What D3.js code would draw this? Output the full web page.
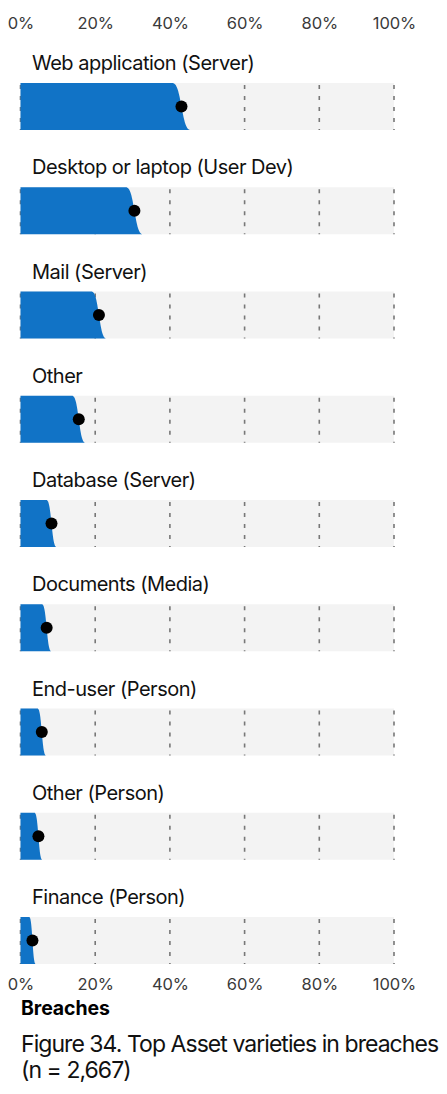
<!DOCTYPE html>
<html><head><meta charset="utf-8">
<script src="https://cdn.jsdelivr.net/npm/d3@7"></script>
<style>
html,body{margin:0;padding:0;background:#fff;}
svg{display:block;font-family:Inter,"Noto Sans",sans-serif;}
</style></head>
<body>
<svg id="chart" width="447" height="1094"></svg>
<script>
const categories = ["Web application (Server)","Desktop or laptop (User Dev)","Mail (Server)","Other","Database (Server)","Documents (Media)","End-user (Person)","Other (Person)","Finance (Person)"];
const estimates = [0.431, 0.305, 0.210, 0.156, 0.083, 0.070, 0.057, 0.048, 0.032];
const sampleSize = 2667;
const tickValues = [0, 0.2, 0.4, 0.6, 0.8, 1.0];
const titleLines = ["Figure 34. Top Asset varieties in breaches", "(n = 2,667)"];
const subtitle = "Breaches";

const svg = d3.select("#chart");
const x = d3.scaleLinear().domain([0,1]).range([20.5,394]);
const y = d3.scaleBand().domain(categories).range([83, 83 + 104.25*9]).paddingInner(0).paddingOuter(0);
const barH = 47;
const fmt = d3.format(".0%");

// inverse normal CDF (Acklam)
function probit(p){
  const a=[-3.969683028665376e+01,2.209460984245205e+02,-2.759285104469687e+02,1.383577518672690e+02,-3.066479806614716e+01,2.506628277459239e+00];
  const b=[-5.447609879822406e+01,1.615858368580409e+02,-1.556989798598866e+02,6.680131188771972e+01,-1.328068155288572e+01];
  const c=[-7.784894002430293e-03,-3.223964580411365e-01,-2.400758277161838e+00,-2.549732539343734e+00,4.374664141464968e+00,2.938163982698783e+00];
  const d=[7.784695709041462e-03,3.224671290700398e-01,2.445134137142996e+00,3.754408661907416e+00];
  const pl=0.02425;
  let q,r;
  if(p<pl){q=Math.sqrt(-2*Math.log(p));return (((((c[0]*q+c[1])*q+c[2])*q+c[3])*q+c[4])*q+c[5])/((((d[0]*q+d[1])*q+d[2])*q+d[3])*q+1);}
  if(p>1-pl){q=Math.sqrt(-2*Math.log(1-p));return -(((((c[0]*q+c[1])*q+c[2])*q+c[3])*q+c[4])*q+c[5])/((((d[0]*q+d[1])*q+d[2])*q+d[3])*q+1);}
  q=p-0.5;r=q*q;
  return (((((a[0]*r+a[1])*r+a[2])*r+a[3])*r+a[4])*r+a[5])*q/(((((b[0]*r+b[1])*r+b[2])*r+b[3])*r+b[4])*r+1);
}

// axes
const topAxis = svg.append("g").attr("transform","translate(0,29)")
  .call(d3.axisTop(x).tickValues(tickValues).tickFormat(fmt).tickSize(0).tickPadding(0));
const botAxis = svg.append("g").attr("transform","translate(0,978)")
  .call(d3.axisBottom(x).tickValues(tickValues).tickFormat(fmt).tickSize(0).tickPadding(0));
[topAxis, botAxis].forEach(g=>{
  g.select(".domain").remove();
  g.selectAll("text").attr("font-family","Inter, sans-serif").attr("font-size",16.5).attr("fill","#3a3a3a").attr("letter-spacing","-0.1");
});
botAxis.selectAll("text").attr("dy","11.5");

const panels = svg.append("g").selectAll("g.panel").data(categories.map((c,i)=>({c, p:estimates[i]})))
  .join("g").attr("class","panel").attr("transform",d=>`translate(0,${y(d.c)})`);

panels.append("text").attr("x",32).attr("y",-13).text(d=>d.c)
  .attr("font-size",20).attr("fill","#111").attr("letter-spacing","-0.5");

panels.append("rect").attr("x",x(0)).attr("y",0).attr("width",x(1)-x(0)).attr("height",barH).attr("fill","#f3f3f3");

panels.selectAll("line.grid").data(tickValues).join("line").attr("class","grid")
  .attr("x1",v=>x(v)).attr("x2",v=>x(v)).attr("y1",0).attr("y2",barH)
  .attr("stroke","#777").attr("stroke-width",1.6).attr("stroke-dasharray","4,7").attr("stroke-dashoffset",-2);

const t0 = 0.01, t1 = 0.99, N = 60;
panels.append("path").attr("fill","#1173c6").attr("d", d=>{
  const se = Math.sqrt(d.p*(1-d.p)/sampleSize);
  const pts = d3.range(N+1).map(k=>{
    const t = t0 + (t1-t0)*k/N;
    return [x(d.p + se*probit(t)), barH*k/N];
  });
  const line = d3.line().curve(d3.curveBasis);
  return `M${x(0)},0` + line(pts).replace(/^M/,"L") + `L${x(0)},${barH}Z`;
});

panels.append("circle").attr("cx",d=>x(d.p)).attr("cy",barH/2).attr("r",6).attr("fill","#000");

svg.append("text").attr("x",21).attr("y",1015).text(subtitle)
  .attr("font-size",19.5).attr("font-weight",700).attr("fill","#000").attr("letter-spacing","-0.1");
svg.append("text").attr("x",21).attr("y",1051.5).attr("font-size",23).attr("fill","#111").attr("letter-spacing","-0.95")
  .selectAll("tspan").data(titleLines).join("tspan").attr("x",21).attr("dy",(d,i)=>i?26:0).text(d=>d);
</script>
</body></html>
